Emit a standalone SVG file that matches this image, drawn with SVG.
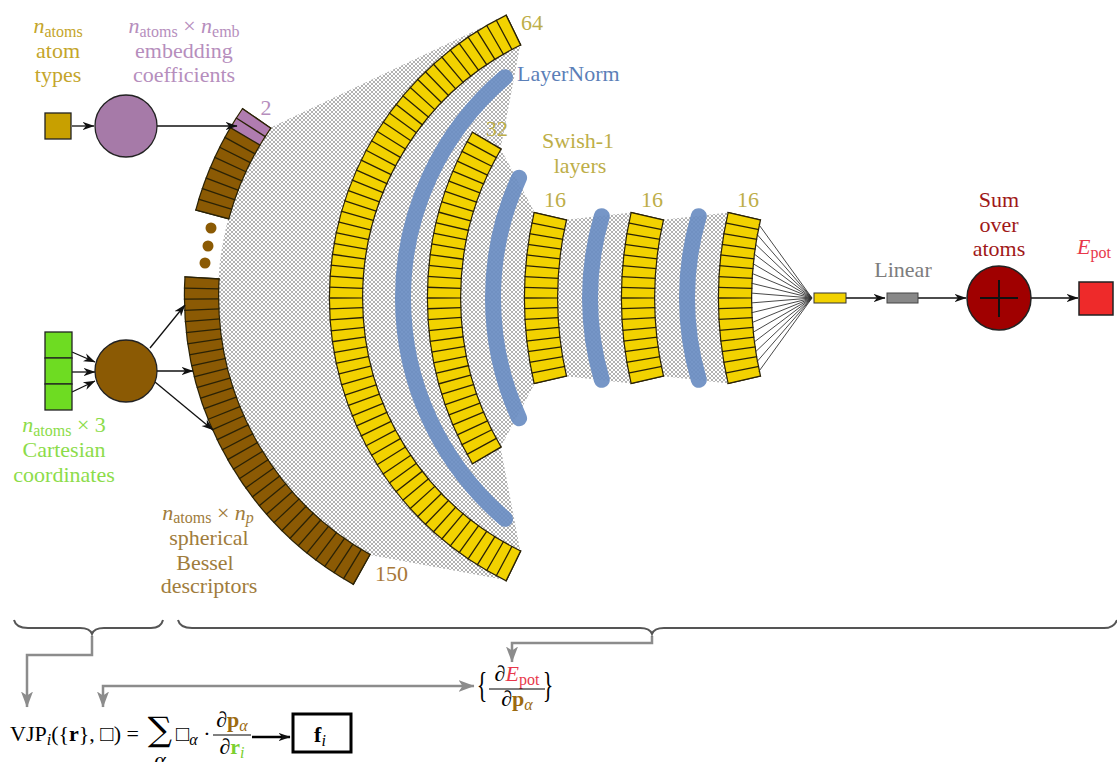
<svg xmlns="http://www.w3.org/2000/svg" width="1117" height="762" viewBox="0 0 1117 762">
<style>
.t{font-family:"Liberation Serif","DejaVu Serif",serif;font-size:22px}
.m{text-anchor:middle}
.i{font-style:italic}
.s{font-size:16px}
.b{font-weight:bold}
.ol{fill:none;stroke:#2a2206}
.dv{fill:none;stroke:#2a2206}
.yl{fill:none;stroke:#f2d200}
.br{fill:none;stroke:#8b5a04}
.pk{fill:none;stroke:#b07cb0}
.ln{fill:none;stroke:#6a8dc2;stroke-width:16;stroke-linecap:round;opacity:.92}
.ar{fill:none;stroke:#111;stroke-width:1.3;marker-end:url(#ah)}
.ga{fill:none;stroke:#8c8c8c;stroke-width:2.5}
.olive{fill:#bdae48}
</style>
<defs>
<pattern id="hatch" patternUnits="userSpaceOnUse" width="4" height="4"><rect width="4" height="4" fill="#fff"/><path d="M0,0L4,4M4,0L0,4" stroke="#888" stroke-width="0.65"/></pattern>
<marker id="ah" viewBox="0 0 12 10" refX="11.5" refY="5" markerWidth="12" markerHeight="10" markerUnits="userSpaceOnUse" orient="auto"><path d="M0,0.8 L12,5 L0,9.2 L3.5,5 z" fill="#111"/></marker>
<marker id="gh" viewBox="0 0 16 13" refX="15.5" refY="6.5" markerWidth="16" markerHeight="13" markerUnits="userSpaceOnUse" orient="auto-start-reverse"><path d="M0,0.5 L16,6.5 L0,12.5 L4,6.5 z" fill="#8c8c8c"/></marker>
<mask id="mBL" maskUnits="userSpaceOnUse" x="0" y="0" width="1117" height="762"><circle cx="515" cy="296" r="313.5" pathLength="360" fill="none" stroke="#fff" stroke-width="39" stroke-dasharray="64.5 999" stroke-dashoffset="-119.06"/></mask>
<mask id="mBU" maskUnits="userSpaceOnUse" x="0" y="0" width="1117" height="762"><circle cx="515" cy="296" r="313.5" pathLength="360" fill="none" stroke="#fff" stroke-width="39" stroke-dasharray="19.88 999" stroke-dashoffset="-194.86"/></mask>
<mask id="m64" maskUnits="userSpaceOnUse" x="0" y="0" width="1117" height="762"><circle cx="644" cy="298" r="298" pathLength="360" fill="none" stroke="#fff" stroke-width="38" stroke-dasharray="128.5 999" stroke-dashoffset="-115.75"/></mask>
<mask id="m32" maskUnits="userSpaceOnUse" x="0" y="0" width="1117" height="762"><circle cx="755" cy="298" r="311" pathLength="360" fill="none" stroke="#fff" stroke-width="38" stroke-dasharray="61.28 999" stroke-dashoffset="-149.36"/></mask>
<mask id="m16a" maskUnits="userSpaceOnUse" x="0" y="0" width="1117" height="762"><circle cx="905" cy="298" r="364" pathLength="360" fill="none" stroke="#fff" stroke-width="38" stroke-dasharray="26.4 999" stroke-dashoffset="-166.8"/></mask>
<mask id="m16b" maskUnits="userSpaceOnUse" x="0" y="0" width="1117" height="762"><circle cx="1002" cy="298" r="364" pathLength="360" fill="none" stroke="#fff" stroke-width="38" stroke-dasharray="26.4 999" stroke-dashoffset="-166.8"/></mask>
<mask id="m16c" maskUnits="userSpaceOnUse" x="0" y="0" width="1117" height="762"><circle cx="1099" cy="298" r="364" pathLength="360" fill="none" stroke="#fff" stroke-width="38" stroke-dasharray="26.4 999" stroke-dashoffset="-166.8"/></mask>
</defs>
<rect width="1117" height="762" fill="#fff"/>

<g id="hatch-region">
<path d="M270.2,127.8 L506.4,15.8 L520.4,44.5 L500.6,148.7 L534.7,212.5 L565.9,219.7 L631.7,212.5 L662.9,219.7 L728.7,212.5 A380,380 0 0 0 728.7,383.5 L662.9,376.3 L631.7,383.5 L565.9,376.3 L534.7,383.5 L500.6,447.3 L520.4,551.5 L506.4,580.2 L369.7,555 A297,297 0 0 1 270.2,127.8 Z" fill="url(#hatch)"/>
</g>

<g id="layernorm-arcs">
<circle class="ln" cx="693" cy="298" r="290" pathLength="360" stroke-dasharray="99.2 999" stroke-dashoffset="-130.4"/>
<circle class="ln" cx="783" cy="298" r="290" pathLength="360" stroke-dasharray="49 999" stroke-dashoffset="-155.5"/>
<circle class="ln" cx="880" cy="298" r="290" pathLength="360" stroke-dasharray="32.8 999" stroke-dashoffset="-163.6"/>
<circle class="ln" cx="977" cy="298" r="290" pathLength="360" stroke-dasharray="32.8 999" stroke-dashoffset="-163.6"/>
</g>

<g id="descriptors-lower">
<circle class="ol" cx="515" cy="296" r="313.5" pathLength="360" stroke-width="35.4" stroke-dasharray="64.26 999" stroke-dashoffset="-119.18"/>
<circle class="br" cx="515" cy="296" r="313.5" pathLength="360" stroke-width="33" stroke-dasharray="64.02 999" stroke-dashoffset="-119.3"/>
<circle class="dv" cx="515" cy="296" r="313.5" pathLength="360" stroke-width="35.4" stroke-dasharray="0.24 1.7" stroke-dashoffset="-119.18" mask="url(#mBL)"/>
</g>
<g id="descriptors-upper">
<circle class="ol" cx="515" cy="296" r="313.5" pathLength="360" stroke-width="35.4" stroke-dasharray="19.64 999" stroke-dashoffset="-194.98"/>
<circle class="br" cx="515" cy="296" r="313.5" pathLength="360" stroke-width="33" stroke-dasharray="19.4 999" stroke-dashoffset="-195.1"/>
<circle class="pk" cx="515" cy="296" r="313.5" pathLength="360" stroke-width="33" stroke-dasharray="3.88 999" stroke-dashoffset="-210.62"/>
<circle class="dv" cx="515" cy="296" r="313.5" pathLength="360" stroke-width="35.4" stroke-dasharray="0.24 1.7" stroke-dashoffset="-194.98" mask="url(#mBU)"/>
</g>
<g id="ellipsis" fill="#8b5a04">
<circle cx="211" cy="228" r="5.5"/><circle cx="208" cy="246" r="5.5"/><circle cx="205" cy="263" r="5.5"/>
</g>

<g id="layer-64">
<circle class="ol" cx="644" cy="298" r="298" pathLength="360" stroke-width="34.4" stroke-dasharray="128.25 999" stroke-dashoffset="-115.875"/>
<circle class="yl" cx="644" cy="298" r="298" pathLength="360" stroke-width="32" stroke-dasharray="128 999" stroke-dashoffset="-116"/>
<circle class="dv" cx="644" cy="298" r="298" pathLength="360" stroke-width="34.4" stroke-dasharray="0.25 1.75" stroke-dashoffset="-115.875" mask="url(#m64)"/>
</g>
<g id="layer-32">
<circle class="ol" cx="755" cy="298" r="311" pathLength="360" stroke-width="34.4" stroke-dasharray="61.04 999" stroke-dashoffset="-149.48"/>
<circle class="yl" cx="755" cy="298" r="311" pathLength="360" stroke-width="32" stroke-dasharray="60.8 999" stroke-dashoffset="-149.6"/>
<circle class="dv" cx="755" cy="298" r="311" pathLength="360" stroke-width="34.4" stroke-dasharray="0.24 1.66" stroke-dashoffset="-149.48" mask="url(#m32)"/>
</g>
<g id="layer-16a">
<circle class="ol" cx="905" cy="298" r="364" pathLength="360" stroke-width="34.4" stroke-dasharray="26.2 999" stroke-dashoffset="-166.9"/>
<circle class="yl" cx="905" cy="298" r="364" pathLength="360" stroke-width="32" stroke-dasharray="26 999" stroke-dashoffset="-167"/>
<circle class="dv" cx="905" cy="298" r="364" pathLength="360" stroke-width="34.4" stroke-dasharray="0.2 1.425" stroke-dashoffset="-166.9" mask="url(#m16a)"/>
</g>
<g id="layer-16b">
<circle class="ol" cx="1002" cy="298" r="364" pathLength="360" stroke-width="34.4" stroke-dasharray="26.2 999" stroke-dashoffset="-166.9"/>
<circle class="yl" cx="1002" cy="298" r="364" pathLength="360" stroke-width="32" stroke-dasharray="26 999" stroke-dashoffset="-167"/>
<circle class="dv" cx="1002" cy="298" r="364" pathLength="360" stroke-width="34.4" stroke-dasharray="0.2 1.425" stroke-dashoffset="-166.9" mask="url(#m16b)"/>
</g>
<g id="layer-16c">
<circle class="ol" cx="1099" cy="298" r="364" pathLength="360" stroke-width="34.4" stroke-dasharray="26.2 999" stroke-dashoffset="-166.9"/>
<circle class="yl" cx="1099" cy="298" r="364" pathLength="360" stroke-width="32" stroke-dasharray="26 999" stroke-dashoffset="-167"/>
<circle class="dv" cx="1099" cy="298" r="364" pathLength="360" stroke-width="34.4" stroke-dasharray="0.2 1.425" stroke-dashoffset="-166.9" mask="url(#m16c)"/>
</g>

<g id="connectors">
<path d="M751.03,293.07L812,298M751.31,283.2L812,298M751.87,273.35L812,298M752.71,263.51L812,298M753.83,253.71L812,298M755.22,243.93L812,298M756.9,234.21L812,298M758.84,224.53L812,298M751.03,302.93L812,298M751.31,312.8L812,298M751.87,322.65L812,298M752.71,332.49L812,298M753.83,342.29L812,298M755.22,352.07L812,298M756.9,361.79L812,298M758.84,371.47L812,298" fill="none" stroke="#333" stroke-width="0.9"/>
<path class="ar" d="M72,126H94"/>
<path class="ar" d="M157,126H237"/>
<path class="ar" d="M72,352L95,362"/>
<path class="ar" d="M72,372H95"/>
<path class="ar" d="M72,392L95,381"/>
<path class="ar" d="M150,348L185,305"/>
<path class="ar" d="M157,371H193"/>
<path class="ar" d="M155,382L213,430"/>
<path class="ar" d="M846,298H885"/>
<path class="ar" d="M918,298H966"/>
<path class="ar" d="M1031,298H1078"/>
<path class="ga" d="M92,636V655H27V707" marker-end="url(#gh)"/>
<path class="ga" d="M652,636V643H512V662" marker-end="url(#gh)"/>
<path class="ga" d="M103,707V686H474" marker-start="url(#gh)" marker-end="url(#gh)"/>
<path d="M252,737H290" fill="none" stroke="#000" stroke-width="2.3" marker-end="url(#ah)"/>
</g>

<g id="braces" fill="none" stroke="#555" stroke-width="2">
<path d="M14,620 Q16,628 28,628 H80 Q90,628 92,634 Q94,628 104,628 H151 Q161,628 163,620"/>
<path d="M178,620 Q180,628 192,628 H640 Q650,628 652,634 Q654,628 664,628 H1104 Q1114,628 1117,620"/>
</g>

<g id="atom-types">
<rect x="45" y="113" width="26" height="26" fill="#c8a000" stroke="#222" stroke-width="1.3"/>
<text class="t m" x="58" y="33" fill="#c4a52a"><tspan class="i">n</tspan><tspan class="s" dy="4">atoms</tspan></text>
<text class="t m" x="58" y="58" fill="#c4a52a">atom</text>
<text class="t m" x="58" y="82" fill="#c4a52a">types</text>
</g>
<g id="embedding">
<circle cx="126" cy="126" r="31" fill="#a67aa8" stroke="#222" stroke-width="1.3"/>
<text class="t m" x="184" y="33" fill="#b68ebd"><tspan class="i">n</tspan><tspan class="s" dy="4">atoms</tspan><tspan dy="-4"> × </tspan><tspan class="i">n</tspan><tspan class="s" dy="4">emb</tspan></text>
<text class="t m" x="184" y="58" fill="#b68ebd">embedding</text>
<text class="t m" x="184" y="82" fill="#b68ebd">coefficients</text>
<text class="t m" x="266" y="115" font-size="20" fill="#b68ebd">2</text>
</g>
<g id="coordinates">
<rect x="45" y="332" width="27" height="26" fill="#6edc22" stroke="#222" stroke-width="1.3"/>
<rect x="45" y="358" width="27" height="26" fill="#6edc22" stroke="#222" stroke-width="1.3"/>
<rect x="45" y="384" width="27" height="26" fill="#6edc22" stroke="#222" stroke-width="1.3"/>
<text class="t m" x="64" y="432" fill="#8cdc4a"><tspan class="i">n</tspan><tspan class="s" dy="4">atoms</tspan><tspan dy="-4"> × 3</tspan></text>
<text class="t m" x="64" y="457" fill="#8cdc4a">Cartesian</text>
<text class="t m" x="64" y="482" fill="#8cdc4a">coordinates</text>
</g>
<g id="descriptor-net">
<circle cx="126" cy="371" r="31" fill="#8b5a04" stroke="#222" stroke-width="1.3"/>
<text class="t m" x="208" y="520" fill="#a07c3c"><tspan class="i">n</tspan><tspan class="s" dy="3">atoms</tspan><tspan dy="-3"> × </tspan><tspan class="i">n</tspan><tspan class="s i" dy="3">p</tspan></text>
<text class="t m" x="209" y="545" fill="#a07c3c">spherical</text>
<text class="t m" x="205" y="570" fill="#a07c3c">Bessel</text>
<text class="t m" x="209" y="593" fill="#a07c3c">descriptors</text>
<text class="t" x="375" y="581" font-size="21" fill="#a87838">150</text>
</g>
<g id="layer-labels">
<text class="t m olive" x="532" y="30" font-size="21">64</text>
<text class="t" x="517" y="81" fill="#5b7fb8">LayerNorm</text>
<text class="t m olive" x="497" y="136" font-size="21">32</text>
<text class="t m olive" x="578" y="148">Swish-1</text>
<text class="t m olive" x="580" y="173">layers</text>
<text class="t m olive" x="555" y="207" font-size="21">16</text>
<text class="t m olive" x="652" y="207" font-size="21">16</text>
<text class="t m olive" x="748" y="207" font-size="21">16</text>
</g>
<g id="output-neuron">
<rect x="814" y="293" width="32" height="10" fill="#f2d200" stroke="#333" stroke-width="1"/>
</g>
<g id="linear">
<rect x="887" y="293" width="31" height="10" fill="#888" stroke="#444" stroke-width="1"/>
<text class="t m" x="903" y="277" fill="#7d7d7d">Linear</text>
</g>
<g id="sum">
<circle cx="999" cy="298" r="32" fill="#a00000" stroke="#222" stroke-width="1.5"/>
<path d="M980,298H1018M999,280V317" stroke="#111" stroke-width="2"/>
<text class="t m" x="999" y="207" fill="#a01818">Sum</text>
<text class="t m" x="999" y="232" fill="#a01818">over</text>
<text class="t m" x="999" y="256" fill="#a01818">atoms</text>
</g>
<g id="energy">
<rect x="1079" y="282" width="34" height="33" fill="#ee2a2a" stroke="#222" stroke-width="1.5"/>
<text class="t" x="1077" y="254" fill="#e8384a"><tspan class="i">E</tspan><tspan class="s" dy="4">pot</tspan></text>
</g>

<g id="gradient-set">
<text class="t m" transform="translate(482,697) scale(1,1.6)" font-size="28">{</text>
<text class="t m" transform="translate(548,697) scale(1,1.6)" font-size="28">}</text>
<text class="t m" x="517" y="681" font-size="21">∂<tspan class="i" fill="#e8384a">E</tspan><tspan class="s" fill="#e8384a" dy="4">pot</tspan></text>
<path d="M489,689H545" stroke="#000" stroke-width="1"/>
<text class="t m" x="517" y="706" font-size="21">∂<tspan class="b" fill="#9c6a10">p</tspan><tspan class="s i" fill="#9c6a10" dy="4">α</tspan></text>
</g>
<g id="vjp">
<text class="t" x="10" y="741">VJP<tspan class="i s" dy="4">i</tspan><tspan dy="-4">({</tspan><tspan class="b">r</tspan>}, □) =</text>
<text x="160" y="741" font-family="DejaVu Serif,serif" font-size="34" text-anchor="middle">∑</text>
<text class="t m i" x="160" y="767" font-size="15">α</text>
<text class="t" x="176" y="741">□<tspan class="i s" dy="4">α</tspan><tspan dy="-4"> ·</tspan></text>
<text class="t m" x="232" y="727" font-size="21">∂<tspan class="b" fill="#9c6a10">p</tspan><tspan class="s i" fill="#9c6a10" dy="4">α</tspan></text>
<path d="M213,735H251" stroke="#000" stroke-width="1"/>
<text class="t m" x="232" y="754" font-size="21">∂<tspan class="b" fill="#7cd030">r</tspan><tspan class="s i" fill="#7cd030" dy="4">i</tspan></text>
</g>
<g id="force">
<rect x="293" y="714" width="58" height="38" fill="#fff" stroke="#000" stroke-width="3"/>
<text class="t m b" x="320" y="742" font-size="26">f<tspan class="i s" font-weight="normal" dy="4">i</tspan></text>
</g>
</svg>
